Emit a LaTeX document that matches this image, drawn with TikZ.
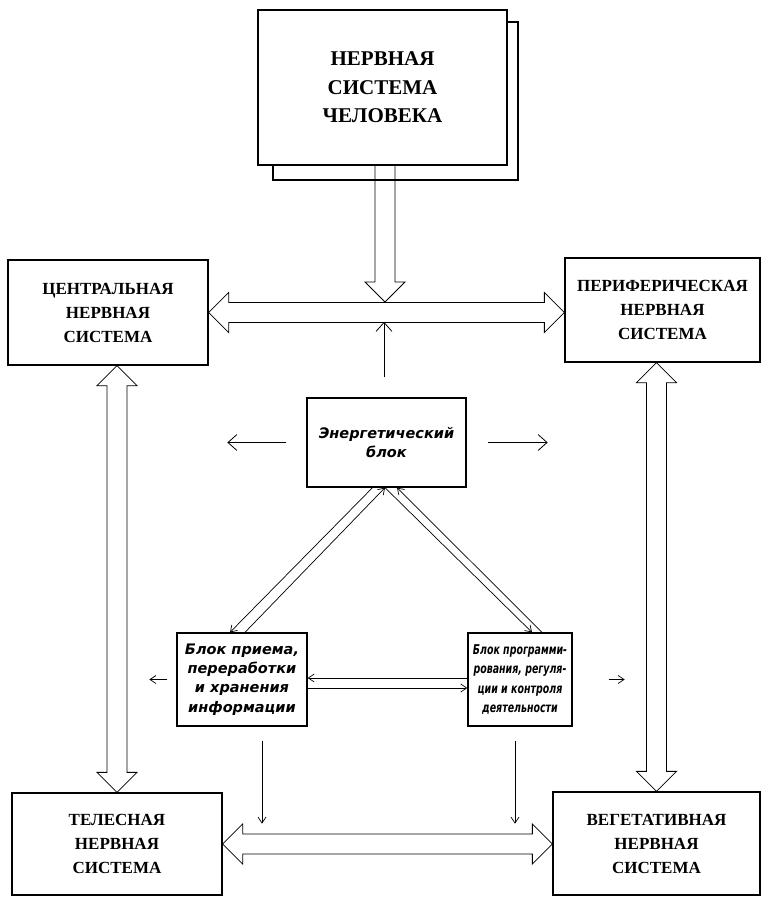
\documentclass[tikz,border=0pt]{standalone}
\usepackage{fontspec}
\setmainfont{Liberation Serif}
\newfontfamily\blockfont{DejaVu Sans}
\newfontfamily\narrowfont[FakeStretch=0.7]{DejaVu Sans}
\usetikzlibrary{calc,arrows.meta}

\begin{document}
\begin{tikzpicture}[x=1pt,y=-1pt,
  sysbox/.style={draw,line width=1.3pt,fill=white,align=center,inner sep=0pt,
    font=\bfseries\fontsize{17}{24}\selectfont},
  blockbox/.style={draw,line width=1.3pt,fill=white,align=center,inner sep=0pt,
    font=\blockfont\bfseries\itshape\fontsize{14.5}{19.3}\selectfont},
  fatboth/.style={line width=0.8pt,to path={
    -- ($(\tikztostart)!20pt!(\tikztotarget)!20pt!90:(\tikztotarget)$)
    -- ($(\tikztostart)!20pt!(\tikztotarget)!10pt!90:(\tikztotarget)$)
    -- ($(\tikztotarget)!20pt!(\tikztostart)!10pt!-90:(\tikztostart)$)
    -- ($(\tikztotarget)!20pt!(\tikztostart)!20pt!-90:(\tikztostart)$)
    -- (\tikztotarget)
    -- ($(\tikztotarget)!20pt!(\tikztostart)!20pt!90:(\tikztostart)$)
    -- ($(\tikztotarget)!20pt!(\tikztostart)!10pt!90:(\tikztostart)$)
    -- ($(\tikztostart)!20pt!(\tikztotarget)!10pt!-90:(\tikztotarget)$)
    -- ($(\tikztostart)!20pt!(\tikztotarget)!20pt!-90:(\tikztotarget)$)
    -- cycle}},
  fatone/.style={line width=0.8pt,to path={
    ($(\tikztostart)!10pt!90:(\tikztotarget)$)
    -- ($(\tikztotarget)!20pt!(\tikztostart)!10pt!-90:(\tikztostart)$)
    -- ($(\tikztotarget)!20pt!(\tikztostart)!20pt!-90:(\tikztostart)$)
    -- (\tikztotarget)
    -- ($(\tikztotarget)!20pt!(\tikztostart)!20pt!90:(\tikztostart)$)
    -- ($(\tikztotarget)!20pt!(\tikztostart)!10pt!90:(\tikztostart)$)
    -- ($(\tikztostart)!10pt!-90:(\tikztotarget)$)}},
  feed/.style={line width=0.8pt,-{Straight Barb[length=9pt,width=16pt]}},
  tick/.style={line width=0.7pt,-{Straight Barb[length=6pt,width=8pt]}}]
\useasboundingbox (0,0) rectangle (762,897);

% boxes
\node[sysbox,minimum width=245pt,minimum height=158pt] (shadow) at (395.5,101) {};
\node[sysbox,minimum width=249pt,minimum height=155pt,
  font=\bfseries\fontsize{21}{28.5}\selectfont] (nervous) at (382.5,87.5)
  {НЕРВНАЯ\\СИСТЕМА\\ЧЕЛОВЕКА};
\node[sysbox,minimum width=200pt,minimum height=105pt] (cns) at (108,312.5)
  {ЦЕНТРАЛЬНАЯ\\НЕРВНАЯ\\СИСТЕМА};
\node[sysbox,minimum width=195pt,minimum height=104pt] (pns) at (662.5,310)
  {ПЕРИФЕРИЧЕСКАЯ\\НЕРВНАЯ\\СИСТЕМА};
\node[sysbox,minimum width=210pt,minimum height=102pt] (tel) at (117,844)
  {ТЕЛЕСНАЯ\\НЕРВНАЯ\\СИСТЕМА};
\node[sysbox,minimum width=207pt,minimum height=103pt] (veg) at (656.5,843.5)
  {ВЕГЕТАТИВНАЯ\\НЕРВНАЯ\\СИСТЕМА};
\node[blockbox,minimum width=159pt,minimum height=89pt] (energy) at (386.5,442.5)
  {Энергетический\\блок};
\node[blockbox,minimum width=130pt,minimum height=93pt] (recv) at (242,679.5)
  {Блок приема,\\переработки\\и хранения\\информации};
\node[blockbox,minimum width=104pt,minimum height=93pt,
  font=\narrowfont\bfseries\itshape\fontsize{13.5}{19.3}\selectfont] (prog) at (520,679.5)
  {Блок программи-\\рования, регуля-\\ции и контроля\\деятельности};

% hollow arrows
\coordinate (drop) at (385,302);
\draw[fatone] (nervous.south -| drop) to (drop);
\draw[fatboth] (cns.east) to (cns.east -| pns.west);%cns-pns
\draw[fatboth] (tel.north) to (tel.north |- cns.south);%cns-tel
\draw[fatboth] (veg.north) to (veg.north |- pns.south);%pns-veg
\draw[fatboth] (tel.east) to (tel.east -| veg.west);%tel-veg

% energy block
\draw[feed] ($(energy.north)+(-2.5,-20)$) -- ($(energy.north)+(-2.5,-75.5)$);
\draw[feed] ($(energy.west)+(-20,0)$) -- ($(energy.west)+(-79,0)$);
\draw[feed] ($(energy.east)+(21,0)$) -- ($(energy.east)+(81,0)$);
\draw[tick] ($(energy.south)+(-14,0)$) -- ($(recv.north)+(-12,0)$);
\draw[tick] ($(recv.north)+(3,0)$) -- ($(energy.south)+(-1.5,0)$);
\draw[tick] ($(energy.south)+(-1.5,0)$) -- ($(prog.north)+(12,0)$);
\draw[tick] ($(prog.north)+(22,0)$) -- ($(energy.south)+(10.5,0)$);

% small blocks
\draw[tick] ($(prog.west)+(0,-1.5)$) -- ($(recv.east)+(0,-1.5)$);
\draw[tick] ($(recv.east)+(0,8.5)$) -- ($(prog.west)+(0,8.5)$);
\draw[tick] ($(recv.west)+(-9,0)$) -- ($(recv.west)+(-27,0)$);
\draw[tick] ($(prog.east)+(36,0)$) -- ($(prog.east)+(52,0)$);
\draw[tick] ($(recv.south)+(20,14)$) -- ($(recv.south)+(20,97)$);
\draw[tick] ($(prog.south)+(-5,14)$) -- ($(prog.south)+(-5,97)$);
\end{tikzpicture}
\end{document}
